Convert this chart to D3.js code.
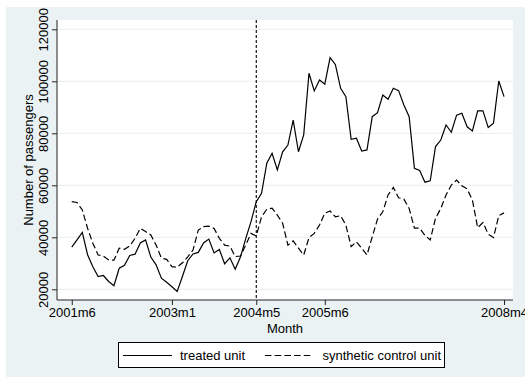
<!DOCTYPE html>
<html><head><meta charset="utf-8">
<script src="https://cdn.jsdelivr.net/npm/d3@7"></script>
<style>body{margin:0;background:#fff}svg{display:block;font-family:"Liberation Sans",Arial,sans-serif}</style>
</head><body><svg id="c" width="525" height="377"></svg>
<script>
const startLabel = "2001m6";
const treated = [36200,39000,41900,33300,28700,24900,25300,23000,21400,28100,29200,33000,33500,37800,39000,32400,29400,24300,22700,21000,19200,25000,31000,33600,34200,37800,39300,34000,35300,29800,32100,27700,32400,39500,46000,53700,56900,68500,72300,65900,72900,75500,85100,72900,79400,103100,96300,100500,98900,109100,106500,97300,94100,77700,78100,73200,73600,86400,87900,94700,93100,97300,96400,90900,86400,66500,65700,61200,61700,74900,77400,83200,80400,87000,87700,82500,80900,88600,88600,82200,83900,100100,94100];
const synthetic = [53700,53400,50500,43500,37700,33200,32800,31300,31200,35800,35400,36700,39600,43500,42200,40900,37000,32000,31500,28700,28500,30200,32500,35100,42800,44100,44300,43400,39600,37000,36600,32600,32800,37000,41500,40500,47900,50800,51200,48500,45400,37000,38600,35800,33200,39900,41500,44700,49300,50100,47900,48300,44700,36400,38300,35800,33200,40200,47000,49800,56300,59200,55200,54700,51100,43500,43500,40700,39000,47300,51100,56300,60100,62000,59800,58600,54300,43700,45700,41200,39900,48300,49400];
const tickMonths = [0,19,35,48,82];
const tickLabels = ["2001m6","2003m1","2004m5","2005m6","2008m4"];
const yTicks = [20000,40000,60000,80000,100000,120000];
const interventionMonth = 35;
const seriesNames = ["treated unit","synthetic control unit"];

const svg = d3.select("#c");
const bg = "#eaf2f3";
svg.append("rect").attr("x",6).attr("y",7).attr("width",519).attr("height",370).attr("fill",bg);

const L=57,R=513,T=20,B=300;
svg.append("rect").attr("x",L).attr("y",T).attr("width",R-L).attr("height",B-T).attr("fill","#fff");

const x = d3.scaleLinear().domain([-2.8,83.7]).range([L,R]);
const y = d3.scaleLinear().domain([15885,123577]).range([B,T]);

// gridlines
svg.append("g").selectAll("line").data(yTicks).join("line")
  .attr("x1",L).attr("x2",R).attr("y1",d=>y(d)).attr("y2",d=>y(d))
  .attr("stroke",bg).attr("stroke-width",1.2);

// y axis
const ya = svg.append("g").attr("transform",`translate(${L},0)`)
  .call(d3.axisLeft(y).tickValues(yTicks).tickSize(5).tickSizeOuter(0).tickFormat(d3.format("d")));
ya.select(".domain").attr("d",`M0,${T}V${B}`).attr("stroke","#222");
ya.selectAll(".tick line").attr("stroke","#222");
ya.selectAll(".tick text").attr("transform","rotate(-90)").attr("x",0).attr("y",-9)
  .attr("dy",0).attr("text-anchor","middle").attr("font-size",13).attr("fill","#000")
  .style("font-family","'Liberation Sans',Arial,sans-serif");

// x axis
const xa = svg.append("g").attr("transform",`translate(0,${B})`)
  .call(d3.axisBottom(x).tickValues(tickMonths).tickSize(5).tickSizeOuter(0).tickFormat((d,i)=>tickLabels[i]));
xa.select(".domain").attr("d",`M${L},0H${R}`).attr("stroke","#222");
xa.selectAll(".tick line").attr("stroke","#222");
xa.selectAll(".tick text").attr("y",8).attr("dy","0.71em").attr("font-size",13).attr("fill","#000")
  .style("font-family","'Liberation Sans',Arial,sans-serif");

// titles
svg.append("text").attr("x",(L+R)/2).attr("y",333).attr("text-anchor","middle").attr("font-size",13).text("Month");
svg.append("text").attr("transform",`translate(33,${(T+B)/2}) rotate(-90)`).attr("text-anchor","middle").attr("font-size",13).text("Number of passengers");

// intervention line
svg.append("line").attr("x1",x(interventionMonth)).attr("x2",x(interventionMonth)).attr("y1",T).attr("y2",B)
  .attr("stroke","#000").attr("stroke-width",1.1).attr("stroke-dasharray","3,2");

const line = d3.line().x((d,i)=>x(i)).y(d=>y(d));
svg.append("path").datum(treated).attr("d",line).attr("fill","none").attr("stroke","#000").attr("stroke-width",1.2);
svg.append("path").datum(synthetic).attr("d",line).attr("fill","none").attr("stroke","#000").attr("stroke-width",1.2).attr("stroke-dasharray","6.5,3.2");

// legend
const lg = svg.append("g");
lg.append("rect").attr("x",118.5).attr("y",342.5).attr("width",326).attr("height",25).attr("fill","#fff").attr("stroke","#000");
lg.append("line").attr("x1",123).attr("x2",172).attr("y1",355.5).attr("y2",355.5).attr("stroke","#000").attr("stroke-width",1.2);
lg.append("text").attr("x",180).attr("y",360).attr("font-size",13).text(seriesNames[0]);
lg.append("line").attr("x1",265).attr("x2",313).attr("y1",355.5).attr("y2",355.5).attr("stroke","#000").attr("stroke-width",1.2).attr("stroke-dasharray","6.5,3.2");
lg.append("text").attr("x",322.5).attr("y",360).attr("font-size",13).text(seriesNames[1]);
</script></body></html>
